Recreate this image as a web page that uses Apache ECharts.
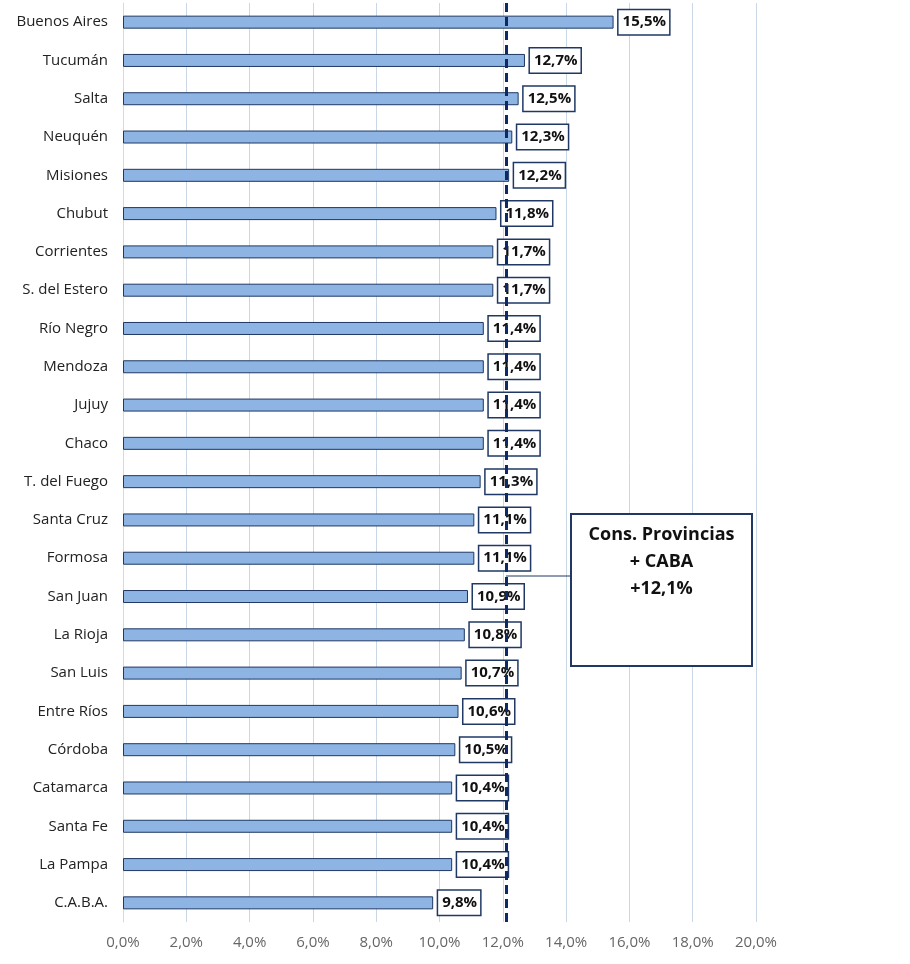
<!DOCTYPE html>
<html><head><meta charset="utf-8">
<script src="https://cdn.jsdelivr.net/npm/echarts@6/dist/echarts.min.js"></script>
<style>html,body{margin:0;padding:0;background:#fff}#c{width:910px;height:964px}</style>
</head><body><div id="c"></div>
<script>
const categories = ["Buenos Aires","Tucumán","Salta","Neuquén","Misiones","Chubut","Corrientes","S. del Estero","Río Negro","Mendoza","Jujuy","Chaco","T. del Fuego","Santa Cruz","Formosa","San Juan","La Rioja","San Luis","Entre Ríos","Córdoba","Catamarca","Santa Fe","La Pampa","C.A.B.A."];
const values = [15.5,12.7,12.5,12.3,12.2,11.8,11.7,11.7,11.4,11.4,11.4,11.4,11.3,11.1,11.1,10.9,10.8,10.7,10.6,10.5,10.4,10.4,10.4,9.8];
const averageValue = 12.1;
const annotationLines = ["Cons. Provincias","+ CABA","+12,1%"];
const fmt = v => v.toFixed(1).replace('.', ',') + '%';

const chart = echarts.init(document.getElementById('c'));
const FONT = '"Open Sans", "Liberation Sans", sans-serif';
chart.setOption({
  animation: false,
  grid: {left: 123, right: 154, top: 3, bottom: 42},
  xAxis: {
    type: 'value', min: 0, max: 20, interval: 2,
    axisLine: {show: false}, axisTick: {show: false},
    splitLine: {show: true, lineStyle: {color: '#c9d7e6', width: 1}},
    axisLabel: {formatter: v => fmt(v), color: '#666', fontSize: 15, fontFamily: FONT, margin: 13}
  },
  yAxis: {
    type: 'category', data: categories, inverse: true,
    axisLine: {show: true, lineStyle: {color: '#d9d9d9', width: 1}},
    axisTick: {show: false},
    axisLabel: {color: '#222', fontSize: 15, fontFamily: FONT, margin: 15}
  },
  series: [{
    type: 'bar', data: values, barWidth: 13,
    itemStyle: {color: '#8db4e2', borderColor: '#1f3864', borderWidth: 1},
    label: {
      show: true, position: 'right', distance: 5,
      formatter: p => fmt(p.value),
      color: '#111', fontWeight: 'bold', fontSize: 15, fontFamily: FONT,
      backgroundColor: '#fff', borderColor: '#1f3864', borderWidth: 1.5,
      padding: [5, 3, 4, 4]
    },
    markLine: {
      silent: true, symbol: ['none','none'], label: {show: false},
      lineStyle: {color: '#0d2a66', width: 3, type: [9, 5]},
      data: [{xAxis: averageValue}]
    },
    z: 2
  }]
});

const x0 = chart.convertToPixel({xAxisIndex: 0}, averageValue);
chart.setOption({
  graphic: [
    {type: 'line', shape: {x1: x0, y1: 576, x2: 571, y2: 576}, style: {stroke: '#1f3864', lineWidth: 1}, z: 10},
    {type: 'rect', shape: {x: 571, y: 514, width: 181, height: 152}, style: {fill: '#fff', stroke: '#1f3864', lineWidth: 2}, z: 10},
    {type: 'text', x: 661.5, y: 521, z: 11,
     style: {text: annotationLines.join('\n'), align: 'center', verticalAlign: 'top', fontSize: 18, fontWeight: 'bold', fontFamily: FONT, fill: '#111', lineHeight: 27}}
  ]
});
</script></body></html>
